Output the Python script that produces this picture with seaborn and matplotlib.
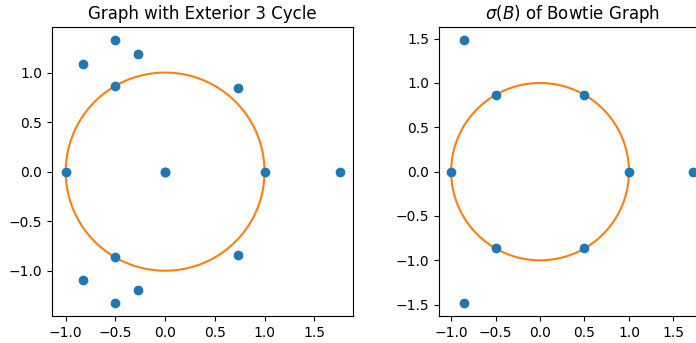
import numpy as np
import pandas as pd
import matplotlib
matplotlib.use("Agg")
import matplotlib.pyplot as plt
import seaborn as sns

# Eigenvalue locations (real, imaginary parts)
ext_re = [-1.0, 0.0, 0.0, 1.0, 1.755, -0.5, -0.5, 0.73, 0.73, -0.83, -0.83, -0.5, -0.5, -0.27, -0.27]
ext_im = [0.0, 0.0, 0.0, 0.0, 0.0, 0.866, -0.866, 0.84, -0.84, 1.09, -1.09, 1.325, -1.325, 1.19, -1.19]

bow_re = [-1.0, 1.0, 1.72, 0.5, 0.5, -0.5, -0.5, -0.86, -0.86]
bow_im = [0.0, 0.0, 0.0, 0.866, -0.866, 0.866, -0.866, 1.48, -1.48]

titles = ["Graph with Exterior 3 Cycle", r"$\sigma(B)$ of Bowtie Graph"]

# unit circle for reference
theta = np.linspace(0, 2 * np.pi, 400)
circle = pd.DataFrame({"x": np.cos(theta), "y": np.sin(theta)})

fig = plt.figure(figsize=(6.96, 3.43), dpi=100)
ax1 = fig.add_axes([52 / 696, 27 / 343, 301.3 / 696, 288.7 / 343])
ax2 = fig.add_axes([439 / 696, 27 / 343, 267 / 696, 288.7 / 343])

for ax, re, im, title in [(ax1, ext_re, ext_im, titles[0]), (ax2, bow_re, bow_im, titles[1])]:
    df = pd.DataFrame({"re": re, "im": im})
    sns.scatterplot(data=df, x="re", y="im", ax=ax, color="#1f77b4", s=36,
                    edgecolor="#1f77b4", linewidth=1.0, zorder=2)
    sns.lineplot(data=circle, x="x", y="y", ax=ax, color="#ff7f0e", sort=False,
                 estimator=None, linewidth=1.5, zorder=1)
    ax.set_title(title, fontsize=12)
    ax.set_xlabel("")
    ax.set_ylabel("")
    ax.set_xticks([-1.0, -0.5, 0.0, 0.5, 1.0, 1.5])

ax1.set_xlim(-1.138, 1.893)
ax1.set_ylim(-1.457, 1.457)
ax1.set_yticks([-1.0, -0.5, 0.0, 0.5, 1.0])
ax2.set_xlim(-1.137, 1.867)
ax2.set_ylim(-1.628, 1.628)
ax2.set_yticks([-1.5, -1.0, -0.5, 0.0, 0.5, 1.0, 1.5])

fig.savefig("out.png", dpi=100)
